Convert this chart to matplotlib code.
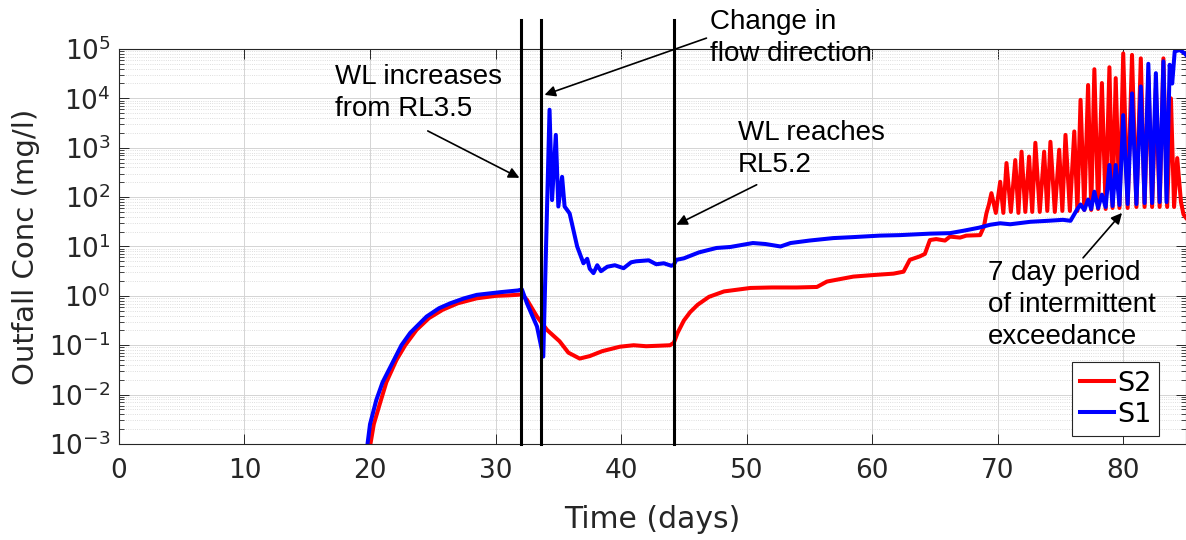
import numpy as np
import matplotlib
matplotlib.use("Agg")
import matplotlib.pyplot as plt
from matplotlib.ticker import LogLocator, FixedLocator

# Values: day, log10(concentration in mg/l)
s2_day = [19.9, 20.3, 20.8, 21.3, 22.1, 22.8, 23.7, 24.7, 25.8, 27.0, 28.5, 30.0,
          31.0, 31.7, 32.1, 32.5, 33.3, 34.1, 35.1, 35.8, 36.7, 37.5, 38.5, 39.9,
          41.0, 42.0, 43.0, 43.9, 44.2, 44.5, 45.0, 45.5, 46.1, 47.0, 48.2, 50.3,
          52.0, 54.0, 55.6, 56.4, 58.5, 60.0, 61.7, 62.5, 63.0, 63.8, 64.2, 64.6,
          65.1, 65.8, 66.2, 67.0, 67.5, 68.6, 68.9, 69.1, 69.3,
          69.5, 69.85, 70.2, 70.45, 70.7, 71.05, 71.4, 71.65, 71.9, 72.2, 72.5, 72.75,
          73.0, 73.35, 73.7, 73.95, 74.2, 74.55, 74.9, 75.15, 75.4, 75.75, 76.1, 76.35,
          76.6, 76.9, 77.2, 77.45, 77.7, 78.0, 78.3, 78.6, 78.9, 79.15, 79.4, 79.7,
          80.0, 80.35, 80.7, 81.05, 81.4, 81.7, 82.0, 82.3, 82.6, 82.9, 83.2, 83.5,
          83.8, 84.05, 84.3, 84.6, 84.8, 85.0]
s2_log = [-3.2, -2.6, -2.17, -1.75, -1.30, -1.0, -0.69, -0.45, -0.28, -0.15, -0.05, 0.0,
          0.01, 0.02, 0.03, -0.08, -0.42, -0.69, -0.92, -1.15, -1.27, -1.22, -1.12, -1.03,
          -1.0, -1.02, -1.01, -1.0, -0.95, -0.75, -0.50, -0.33, -0.18, -0.02, 0.09, 0.16,
          0.17, 0.17, 0.18, 0.29, 0.39, 0.42, 0.45, 0.49, 0.73, 0.80, 0.85, 1.13,
          1.15, 1.12, 1.20, 1.18, 1.22, 1.23, 1.40, 1.67, 1.85,
          2.08, 1.68, 2.31, 1.68, 2.69, 1.70, 2.75, 1.68, 2.92, 1.70, 2.82, 1.70,
          3.10, 1.70, 2.92, 1.72, 3.12, 1.70, 2.96, 1.72, 3.26, 1.72, 3.33, 1.72,
          3.97, 1.74, 4.27, 1.74, 4.59, 1.76, 4.31, 1.76, 4.63, 1.78, 4.41, 1.78,
          4.91, 1.78, 4.88, 1.80, 4.81, 1.80, 4.45, 1.80, 4.20, 1.80, 4.81, 1.80,
          4.00, 1.80, 2.79, 1.90, 1.65, 1.58]

s1_day = [19.7, 20.0, 20.5, 21.0, 21.9, 22.5, 23.2, 24.5, 25.5, 26.4, 27.5, 28.5,
          30.4, 31.8, 32.1, 32.5, 33.3, 33.8, 34.3, 34.5, 34.8, 35.0, 35.3, 35.5,
          35.9, 36.5, 37.0, 37.3, 37.5, 37.8, 38.1, 38.4, 38.9, 39.5, 40.2, 40.8,
          41.2, 42.2, 42.8, 43.4, 44.0, 44.2, 44.4, 45.0, 46.2, 47.6, 48.7, 50.5,
          51.5, 52.7, 53.5, 55.0, 56.9, 58.5, 60.6, 62.2, 64.6, 66.2, 67.3, 68.5,
          69.4, 70.2, 71.0, 72.6, 74.0, 75.2, 75.8, 76.3,
          76.6, 76.9, 77.2, 77.45, 77.7, 78.0, 78.3, 78.6, 78.9, 79.15, 79.4, 79.7,
          80.0, 80.35, 80.7, 81.05, 81.4, 81.7, 82.0, 82.3, 82.6, 82.9, 83.2, 83.45,
          83.7, 83.9, 84.1, 84.5, 84.9, 85.0]
s1_log = [-3.2, -2.6, -2.11, -1.75, -1.30, -1.0, -0.75, -0.42, -0.25, -0.15, -0.05, 0.02,
          0.075, 0.11, 0.13, -0.15, -0.62, -1.23, 3.77, 1.94, 3.26, 1.81, 2.41, 1.81,
          1.67, 1.0, 0.66, 0.75, 0.55, 0.46, 0.62, 0.50, 0.59, 0.62, 0.56, 0.68,
          0.70, 0.72, 0.64, 0.66, 0.61, 0.63, 0.73, 0.76, 0.88, 0.97, 0.99, 1.07,
          1.05, 1.0, 1.07, 1.12, 1.17, 1.19, 1.22, 1.23, 1.26, 1.27, 1.32, 1.38,
          1.44, 1.47, 1.45, 1.50, 1.52, 1.54, 1.52, 1.74,
          1.85, 1.74, 1.95, 1.76, 2.11, 1.78, 2.05, 1.80, 2.65, 1.82, 2.65, 1.84,
          3.66, 1.86, 4.10, 1.86, 4.24, 1.88, 4.70, 1.88, 4.51, 1.90, 4.75, 1.90,
          4.68, 4.30, 4.95, 4.98, 4.91, 4.88]

event_days = [32.0, 33.6, 44.2]

s2_conc = 10.0 ** np.array(s2_log)
s1_conc = 10.0 ** np.array(s1_log)

fig = plt.figure(figsize=(11.86, 5.4), dpi=100)
ax = fig.add_axes([0.1003, 0.1778, 0.8997, 0.7315])

ax.plot(s2_day, s2_conc, color=(1, 0, 0), lw=2.9, label="S2")
ax.plot(s1_day, s1_conc, color=(0, 0, 1), lw=2.9, label="S1")

for d in event_days:
    ax.axvline(d, ymin=0, ymax=1.073, color="k", lw=2.2, clip_on=False, zorder=5)

ax.set_yscale("log")
ax.set_xlim(0, 85)
ax.set_ylim(1e-3, 1e5)
ax.xaxis.set_major_locator(FixedLocator([0, 10, 20, 30, 40, 50, 60, 70, 80]))
ax.yaxis.set_major_locator(LogLocator(base=10, numticks=20))
ax.yaxis.set_minor_locator(LogLocator(base=10, subs=np.arange(2, 10), numticks=100))

ax.grid(True, which="major", color="#d4d4d4", lw=0.7)
ax.grid(True, which="minor", axis="y", color="#d4d4d4", lw=0.6, ls=":")
ax.set_axisbelow(True)

ax.tick_params(which="both", direction="in", top=True, right=True,
               colors="#262626", labelsize=19)
ax.tick_params(which="major", length=7, width=0.7)
ax.tick_params(which="minor", length=3.5, width=0.6)
ax.tick_params(axis="x", pad=10)
ax.tick_params(axis="y", pad=6)
for sp in ax.spines.values():
    sp.set_color("#262626")
    sp.set_linewidth(0.8)

ax.set_xlabel("Time (days)", fontsize=21.5, color="#262626")
ax.set_ylabel("Outfall Conc (mg/l)", fontsize=21, color="#262626")
ax.xaxis.set_label_coords(0.5, -0.155)
ax.yaxis.set_label_coords(-0.074, 0.5)

# annotations
note_font = dict(family="Liberation Sans", fontsize=20, color="k",
                 ha="left", va="center", linespacing=1.3)
ax.text(17.2, 10 ** 4.11, "WL increases\nfrom RL3.5", **note_font)
ax.text(47.1, 10 ** 5.23, "Change in\nflow direction", **note_font)
ax.text(49.3, 10 ** 2.98, "WL reaches\nRL5.2", **note_font)
ax.text(69.2, 10 ** -0.18, "7 day period\nof intermittent\nexceedance", **note_font)

arrow = dict(arrowstyle="-|>", color="k", lw=1.2, mutation_scale=16,
             shrinkA=0, shrinkB=0)
ax.annotate("", xy=(31.9, 10 ** 2.39), xytext=(24.6, 10 ** 3.34),
            arrowprops=arrow, annotation_clip=False)
ax.annotate("", xy=(33.9, 10 ** 4.07), xytext=(46.8, 10 ** 5.22),
            arrowprops=arrow, annotation_clip=False)
ax.annotate("", xy=(44.4, 10 ** 1.44), xytext=(50.8, 10 ** 2.25),
            arrowprops=arrow, annotation_clip=False)
ax.annotate("", xy=(79.9, 10 ** 1.68), xytext=(76.8, 10 ** 0.77),
            arrowprops=arrow, annotation_clip=False)

leg = ax.legend(loc="lower right", bbox_to_anchor=(0.975, 0.02), fontsize=19.5,
                frameon=True, fancybox=False, edgecolor="#262626",
                handlelength=1.25, handletextpad=0.12, labelspacing=0.2,
                borderpad=0.3, borderaxespad=0)
leg.get_frame().set_linewidth(0.8)
leg.get_frame().set_alpha(1)

fig.savefig("out.png", dpi=100)
